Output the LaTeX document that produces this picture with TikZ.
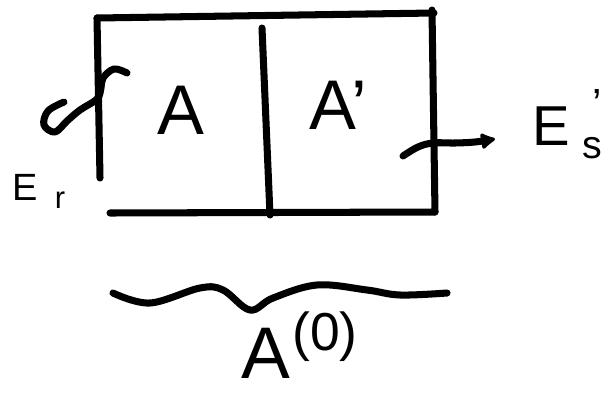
\documentclass[tikz,border=0pt]{standalone}
\usepackage{fontspec}
\setmainfont{Liberation Sans}
\usetikzlibrary{arrows.meta}
\begin{document}
\begin{tikzpicture}[x=0.025cm,y=-0.025cm,
  ink/.style={line width=5pt,line cap=round,line join=round},
  lbl/.style={inner sep=0pt}]
\useasboundingbox (0,0) rectangle (608,396);
% box corners
\coordinate (tl) at (97,18);
\coordinate (tr) at (434,13);
\coordinate (trt) at (432,10);
\coordinate (lb) at (100,178);
\coordinate (bl) at (110,213);
\coordinate (br) at (435,212);
\coordinate (mt) at (262,28);
\coordinate (mb) at (270,215);
\draw[ink] (tl) -- (tr);
\draw[ink] (tl) -- (lb);
\draw[ink] (trt) -- (br);
\draw[ink] (bl) -- (br);
\draw[ink] (mt) -- (mb);
% labels
\node[lbl] (A) at (181,110) {\fontsize{50}{52}\selectfont A};
\node[lbl] (Ap) at (338,105) {\fontsize{50}{52}\selectfont A’};
\node[lbl] (Er) at (25,187) {\fontsize{27}{29}\selectfont E};
\node[lbl] (r) at (60,200) {\fontsize{22}{24}\selectfont r};
\node[lbl] (Es) at (551,126) {\fontsize{40}{42}\selectfont E};
\node[lbl] (s) at (592,148) {\fontsize{28}{30}\selectfont s};
\node[lbl] (prime) at (597,104) {\fontsize{30}{32}\selectfont ’};
\node[lbl] (A0) at (266,353) {\fontsize{52}{54}\selectfont A};
\node[lbl] (sup0) at (325,337) {\fontsize{38}{40}\selectfont (0)};
% left curl
\draw[ink] plot[smooth,tension=0.6] coordinates {(64,102) (48,111) (44,125) (55,132) (67,121) (80,110) (97,99) (101,88) (103,78) (114,69) (127,73)};
% right arrow
\draw[ink,-{Latex[length=12pt,width=14pt,round]}] plot[smooth,tension=0.6] coordinates {(403,156) (418,147) (433,143) (455,143) (475,142) (495,139)};
% brace
\draw[ink] plot[smooth,tension=0.6] coordinates {(113,293) (150,303) (200,288) (223,290) (250,310) (273,298) (317,285) (367,290) (400,295) (447,293)};
\end{tikzpicture}
\end{document}
